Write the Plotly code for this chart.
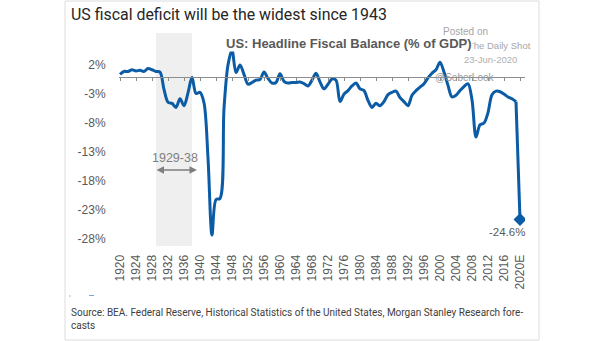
import plotly.graph_objects as go

# US headline fiscal balance, % of GDP (2020 = estimate)
years = list(range(1920, 2021))
balance = [
    0.4, 0.9, 0.9, 1.2, 1.0, 1.1, 0.9, 1.4, 1.2, 0.9,            # 1920s
    0.8, -2.2, -4.4, -4.6, -5.3, -3.8, -5.0, -2.8, -0.1, -2.9,   # 1930s
    -2.7, -4.5, -14.0, -27.3, -21.2, -21.0, -5.5, 2.0, 4.6, 0.7,  # 1940s
    2.0, 0.4, -1.3, -1.0, -0.6, -0.5, 0.8, -0.3, -1.1, -1.0,     # 1950s
    0.5, -0.8, -1.1, -1.0, -1.0, -0.9, -1.2, -1.6, -0.6, 0.6,    # 1960s
    -0.9, -2.1, -1.3, -0.4, -0.6, -4.3, -3.0, -2.4, -1.6, -1.1,  # 1970s
    -2.1, -2.4, -4.1, -5.3, -4.6, -5.0, -4.3, -3.1, -2.7, -2.5,  # 1980s
    -3.6, -4.3, -5.0, -3.2, -2.4, -1.8, -1.2, -0.2, 0.6, 1.2,    # 1990s
    2.5, 0.8, -1.5, -3.5, -3.2, -2.4, -1.7, -1.2, -4.0, -10.4,   # 2000s
    -8.3, -8.0, -6.2, -3.1, -2.5, -2.6, -3.0, -3.5, -3.8, -4.3,  # 2010s
    -24.6,                                                        # 2020E
]

tick_years = years[::4]
tick_labels = ["1920", "1924", "1928", "1932", "1936", "1940", "1944", "1948",
               "1952", "1956", "1960", "1964", "1968", "1972", "1976", "1980",
               "1984", "1988", "1992", "1996", "2000", "2004", "2008", "2012",
               "2016", "2020E"]
y_ticks = [2, -3, -8, -13, -18, -23, -28]
y_tick_labels = [f"{v}%" for v in y_ticks]

depression = (1929, 1938)
depression_label = "1929-38"

title = "US fiscal deficit will be the widest since 1943"
subtitle = "US: Headline Fiscal Balance (% of GDP)"
source = ("Source: BEA. Federal Reserve, Historical Statistics of the United States, "
          "Morgan Stanley Research fore-<br>casts")

LINE = "#0b5ca5"
GREY = "#595959"

# plot-area geometry (pixels)
W, H = 605, 341
L, R, T, B = 119, 525, 33, 246
PW, PH = R - L, B - T
X_RANGE = [1919.75, 2021.25]
Y_RANGE = [-29.19, 7.53]


def fx(px):
    return (px - L) / PW


def fy(py):
    return (B - py) / PH


fig = go.Figure()

# smoothed history
fig.add_trace(go.Scatter(
    x=years[:-1], y=balance[:-1], mode="lines",
    line=dict(color=LINE, width=3, shape="spline", smoothing=0.9),
    hoverinfo="skip", showlegend=False,
))
# drop into the 2020 estimate
fig.add_trace(go.Scatter(
    x=years[-2:], y=balance[-2:], mode="lines",
    line=dict(color=LINE, width=3),
    xaxis="x2", hoverinfo="skip", showlegend=False,
))
fig.add_trace(go.Scatter(
    x=years[-1:], y=balance[-1:], mode="markers",
    marker=dict(symbol="diamond", size=10, color=LINE),
    hoverinfo="skip", showlegend=False,
))

annotations = [
    dict(text=title, x=fx(69), y=fy(15), xref="paper", yref="paper",
         xanchor="left", yanchor="middle", showarrow=False,
         font=dict(family="Roboto", size=15.9, color="#262626")),
    dict(text="Posted on", x=fx(465), y=fy(31), xref="paper", yref="paper",
         xanchor="center", yanchor="middle", showarrow=False,
         font=dict(family="Liberation Sans", size=10, color="#a6a6a6")),
    dict(text="The Daily Shot", x=fx(466), y=fy(45), xref="paper", yref="paper",
         xanchor="left", yanchor="middle", showarrow=False,
         font=dict(family="Liberation Sans Narrow, Liberation Sans", size=9.5,
                   color="#a6a6a6")),
    dict(text=subtitle, x=fx(349), y=fy(44), xref="paper", yref="paper",
         xanchor="center", yanchor="middle", showarrow=False,
         bgcolor="white", borderpad=0,
         font=dict(family="Liberation Sans", size=13, color=GREY, weight="bold")),
    dict(text="23-Jun-2020", x=fx(490), y=fy(59), xref="paper", yref="paper",
         xanchor="center", yanchor="middle", showarrow=False,
         font=dict(family="Liberation Sans Narrow, Liberation Sans", size=9.5,
                   color="#b0b0b0")),
    dict(text="@SoberLook", x=fx(465), y=fy(77), xref="paper", yref="paper",
         xanchor="center", yanchor="middle", showarrow=False,
         font=dict(family="Liberation Sans", size=10, color="#9a9a9a")),
    dict(text=depression_label, x=sum(depression) / 2 + 0.3, y=-14.1,
         xanchor="center", yanchor="middle", showarrow=False,
         font=dict(family="Liberation Sans", size=12.5, color="#7f7f7f")),
    dict(text="", x=depression[1] + 1.25, y=-16.1, ax=depression[0] - 0.25, ay=-16.1,
         axref="x", ayref="y", showarrow=True, arrowside="end+start",
         arrowhead=2, arrowsize=1, arrowwidth=1.5, arrowcolor="#7f7f7f"),
    dict(text=f"{balance[-1]}%", x=years[-1] - 3.3, y=balance[-1] - 2.2,
         xanchor="center", yanchor="middle", showarrow=False,
         font=dict(family="Liberation Sans", size=11.5, color=GREY)),
    dict(text=source, x=fx(69), y=fy(319), xref="paper", yref="paper",
         xanchor="left", yanchor="middle", align="left", showarrow=False,
         font=dict(family="Roboto", size=10, color="#404040")),
]

shapes = [
    # card frame
    dict(type="rect", xref="paper", yref="paper", x0=fx(65), x1=fx(539),
         y0=fy(340), y1=fy(1), line=dict(color="#dcdcdc", width=1),
         fillcolor="rgba(0,0,0,0)", layer="below"),
    # Great Depression shading
    dict(type="rect", xref="x", yref="paper", x0=depression[0], x1=depression[1],
         y0=0, y1=1, fillcolor="#efefef", line=dict(width=0), layer="below"),
    # remnants of a legend swatch
    dict(type="line", xref="paper", yref="paper", x0=fx(69), x1=fx(70.5),
         y0=fy(296), y1=fy(296), line=dict(color="#6fa8dc", width=1)),
    dict(type="line", xref="paper", yref="paper", x0=fx(89), x1=fx(94),
         y0=fy(295.5), y1=fy(295.5), line=dict(color="#6fa8dc", width=1)),
]

zero_pos = (0 - Y_RANGE[0]) / (Y_RANGE[1] - Y_RANGE[0])

fig.update_layout(
    width=W, height=H,
    margin=dict(l=L, r=W - R, t=T, b=H - B),
    paper_bgcolor="white", plot_bgcolor="white",
    xaxis=dict(range=X_RANGE, tickmode="array", tickvals=tick_years,
               ticktext=tick_labels, tickangle=-90, showgrid=False,
               zeroline=False, showline=False, ticks="outside", ticklen=3,
               tickcolor="rgba(0,0,0,0)",
               tickfont=dict(family="Liberation Sans", size=12, color=GREY)),
    xaxis2=dict(overlaying="x", matches="x", anchor="free", position=zero_pos,
                showline=True, linecolor="#8c8c8c", linewidth=1,
                ticks="outside", ticklen=3, tickcolor="#8c8c8c",
                tickmode="array", tickvals=tick_years, showticklabels=False,
                showgrid=False, zeroline=False),
    yaxis=dict(range=Y_RANGE, tickmode="array", tickvals=y_ticks,
               ticktext=y_tick_labels, showgrid=False, zeroline=False,
               showline=False, ticks="outside", ticklen=10,
               tickcolor="rgba(0,0,0,0)",
               tickfont=dict(family="Liberation Sans", size=12, color=GREY)),
    annotations=annotations,
    shapes=shapes,
)

fig.write_html("out.html")
